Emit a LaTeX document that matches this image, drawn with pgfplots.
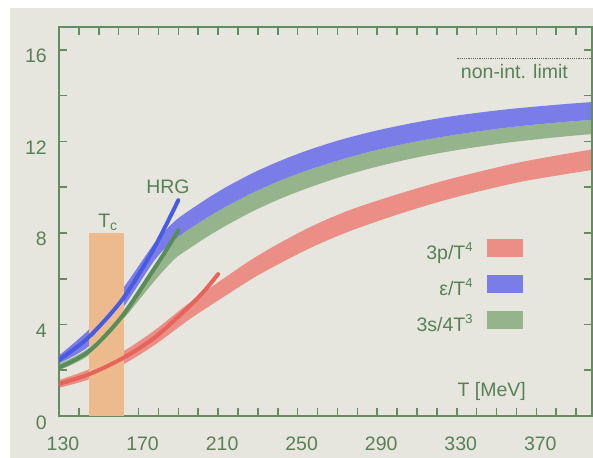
\documentclass[border=0pt]{standalone}
\usepackage{fontspec}
\setmainfont{Liberation Sans}
\usepackage{pgfplots}
\pgfplotsset{compat=1.18}
\usepgfplotslibrary{fillbetween}

\definecolor{paperbg}{RGB}{231,230,222}
\definecolor{axgreen}{RGB}{100,140,98}
\definecolor{txtgreen}{RGB}{88,128,88}
\definecolor{pband}{RGB}{234,142,134}
\definecolor{eband}{RGB}{122,124,232}
\definecolor{sband}{RGB}{150,180,140}
\definecolor{pline}{RGB}{230,100,90}
\definecolor{eline}{RGB}{72,92,226}
\definecolor{sline}{RGB}{88,140,88}
\definecolor{tcbox}{RGB}{236,186,140}
\definecolor{limitline}{RGB}{90,105,90}

\newcommand\sups[1]{\raisebox{0.8ex}{\fontsize{13bp}{15bp}\selectfont #1}}
\newcommand\subs[1]{\raisebox{-0.35ex}{\fontsize{14bp}{16bp}\selectfont #1}}

% a layer under everything for the page background
\pgfplotsset{
  layers/withpaper/.define layer set={paper,axis background,axis grid,axis ticks,
    axis lines,axis tick labels,pre main,main,axis descriptions,axis foreground}{},
}

\begin{document}
\begin{tikzpicture}[font=\fontsize{19.5bp}{23bp}\selectfont]
\begin{axis}[
  set layers=withpaper,
  at={(59bp,42bp)}, anchor=south west,
  scale only axis, width=533bp, height=389bp,
  xmin=130, xmax=398, ymin=0, ymax=17,
  axis line style={axgreen, line width=2.5bp},
  tick align=inside, tick pos=both,
  major tick length=8bp, minor tick length=8bp,
  tick style={axgreen, line width=1.6bp},
  xtick={130,170,...,370}, minor xtick={140,150,...,390},
  ytick={0,4,...,16}, minor ytick={2,6,10,14},
  /pgf/number format/assume math mode=true,
  /pgf/number format/1000 sep={},
  xticklabel style={anchor=base, inner sep=0pt, xshift=4bp, yshift=-34bp, text=txtgreen},
  yticklabel style={anchor=base east, inner sep=0pt, xshift=-12bp, yshift=-13bp, text=txtgreen},
  legend plot pos=right, legend cell align=right,
  legend style={at={(rel axis cs:0.8687,0.4576)}, anchor=north east,
    draw=none, fill=none, inner sep=0pt, outer sep=0pt,
    row sep=10bp, column sep=14bp,
    nodes={inner sep=0pt, text height=22bp, text depth=4bp, text=txtgreen}},
]

% critical temperature region
\addplot[fill=tcbox, draw=none, forget plot] coordinates {(145.2,8) (162.8,8)} \closedcycle;

% 3p/T^4 band
\addplot[name path=pu, draw=none, smooth, forget plot] coordinates {
 (130,1.57) (145,2.04) (161.5,2.78) (178,3.74) (195,4.91) (211.8,5.95) (228.5,6.93)
 (245,7.75) (260,8.41) (278.7,9.08) (304,9.79) (329,10.41) (362.5,11.1) (398,11.65)};
\addplot[name path=pl, draw=none, smooth, forget plot] coordinates {
 (130,1.23) (145,1.60) (161.5,2.22) (178,3.10) (195,4.19) (211.8,5.15) (228.5,6.07)
 (245,6.85) (260,7.49) (278.7,8.16) (304,8.91) (329,9.55) (362.5,10.24) (398,10.75)};
\addplot[pband, forget plot, on layer=main] fill between[of=pu and pl];

% 3s/4T^3 band
\addplot[name path=su, draw=none, smooth, forget plot] coordinates {
 (130,2.28) (145,2.98) (161.5,4.5) (178,6.6) (188,7.7) (195,8.14) (205,8.70)
 (215,9.20) (228,9.78) (242,10.32) (256,10.77) (272,11.21) (290,11.63) (310,12.0)
 (330,12.3) (355,12.6) (380,12.82) (398,12.94)};
\addplot[name path=sl, draw=none, smooth, forget plot] coordinates {
 (130,2.0) (145,2.66) (161.5,4.15) (178,5.9) (188,6.85) (195,7.29) (205,7.86)
 (215,8.37) (228,8.97) (242,9.52) (256,9.99) (272,10.46) (290,10.90) (310,11.30)
 (330,11.62) (355,11.94) (380,12.18) (398,12.32)};
\addplot[sband, forget plot, on layer=main] fill between[of=su and sl];

% epsilon/T^4 band
\addplot[name path=eu, draw=none, smooth, forget plot] coordinates {
 (130,2.65) (145,3.78) (161.5,5.5) (178,7.55) (188,8.5) (195,8.95) (205,9.53)
 (215,10.05) (228,10.64) (242,11.18) (256,11.64) (272,12.08) (290,12.48) (310,12.84)
 (330,13.13) (355,13.40) (380,13.60) (398,13.72)};
\addplot[name path=el, draw=none, smooth, forget plot] coordinates {
 (130,2.3) (145,3.05) (161.5,4.65) (178,6.8) (188,7.7) (195,8.14) (205,8.70)
 (215,9.20) (228,9.78) (242,10.32) (256,10.77) (272,11.21) (290,11.63) (310,12.0)
 (330,12.3) (355,12.6) (380,12.82) (398,12.94)};
\addplot[eband, forget plot, on layer=main] fill between[of=eu and el];

% hadron resonance gas curves
\addplot[pline, line width=4bp, line cap=round, smooth, forget plot] coordinates {
 (130,1.4) (145,1.82) (161.5,2.5) (178,3.42) (195,4.75) (203.4,5.5) (210,6.2)};
\addplot[eline, line width=4bp, line cap=round, smooth, forget plot] coordinates {
 (130,2.45) (145,3.45) (161.5,5.05) (175,6.9) (183,8.2) (190,9.43)};
\addplot[sline, line width=4bp, line cap=round, smooth, forget plot] coordinates {
 (130,2.12) (145,2.82) (161.5,4.33) (178,6.45) (185,7.4) (190,8.12)};

% Stefan-Boltzmann limit
\addplot[limitline, line width=1.6bp, dash pattern=on 1.2bp off 1bp, forget plot]
 coordinates {(330.3,15.62) (398,15.62)};

\addlegendimage{legend image code/.code={\fill[pband] (0bp,-5bp) rectangle (35bp,12bp);}}
\addlegendentry{3p/T\sups{4}}
\addlegendimage{legend image code/.code={\fill[eband] (0bp,-5bp) rectangle (35bp,12bp);}}
\addlegendentry{ε/T\sups{4}}
\addlegendimage{legend image code/.code={\fill[sband] (0bp,-5bp) rectangle (35bp,12bp);}}
\addlegendentry{3s/4T\sups{3}}

\node[anchor=base, text=txtgreen] at (axis cs:154.5,8.25) {T\subs{c}};
\node[anchor=base, text=txtgreen] at (axis cs:184.8,9.74) {HRG};
\node[anchor=base, text=txtgreen] at (axis cs:359,14.76) {non-int. limit};
\node[anchor=base, text=txtgreen] at (axis cs:347.6,0.84) {T [MeV]};
\end{axis}
\begin{pgfonlayer}{paper}
\fill[white] (0,0) rectangle (593bp,458bp);
\fill[paperbg] (10bp,0) rectangle (593bp,450bp);
\end{pgfonlayer}
\pgfresetboundingbox
\useasboundingbox (0,0) rectangle (593bp,458bp);
\end{tikzpicture}
\end{document}
